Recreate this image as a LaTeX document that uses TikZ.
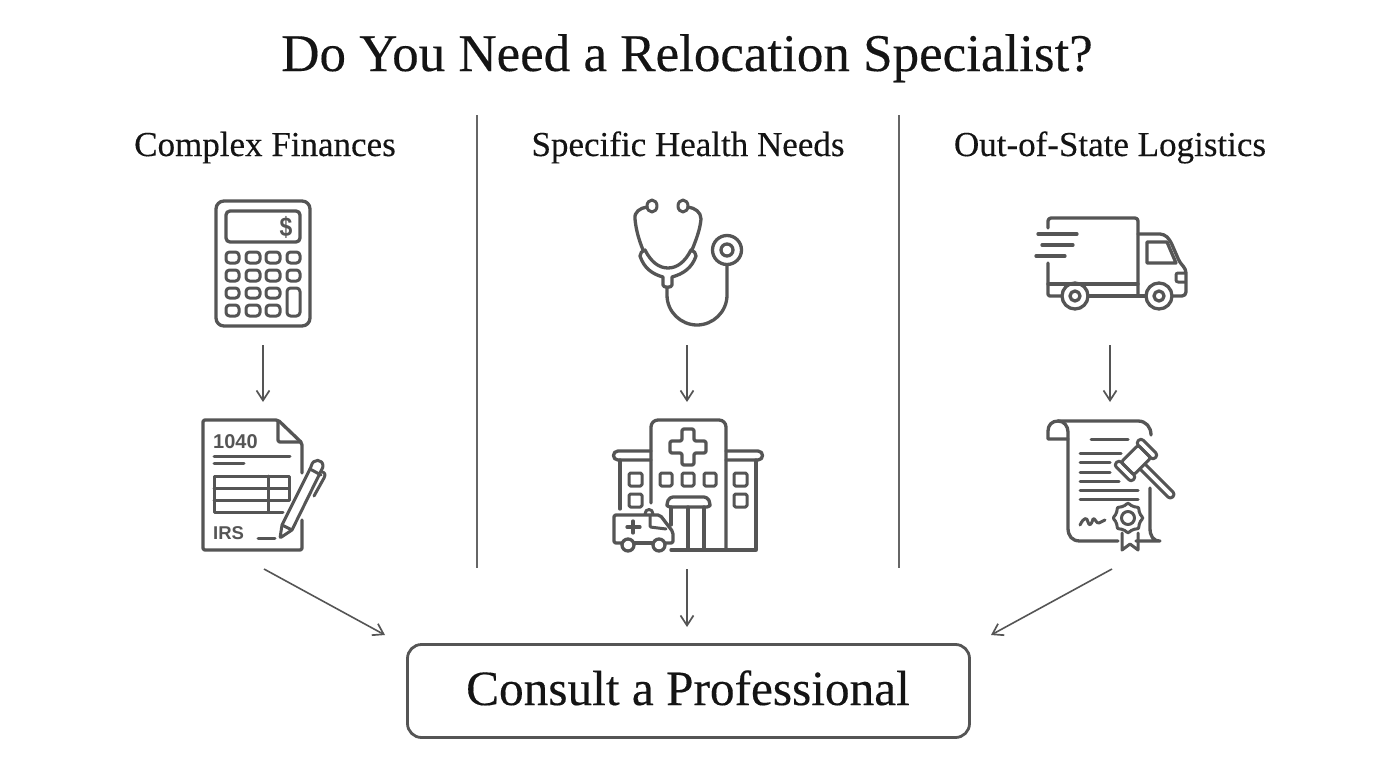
\documentclass[tikz,border=0pt]{standalone}
\usepackage{fontspec}
\setmainfont[FakeBold=0.25]{Liberation Serif}
\newfontfamily\iconsans{Liberation Sans}
\usetikzlibrary{arrows.meta}
\definecolor{ink}{HTML}{555555}
\definecolor{txt}{HTML}{141414}
\tikzset{
 x=1pt,y=-1pt,
 icon/.style={draw=ink,line width=3.3pt,line cap=round,line join=round},
 thin icon/.style={icon,line width=3pt},
 flow/.style={draw=ink,line width=1.6pt,-{Straight Barb[length=10pt,width=13pt,line width=1.7pt]}},
 sep/.style={draw=ink!90,line width=1.6pt},
 heading/.style={text=txt,font=\fontsize{35}{38}\selectfont,anchor=base,inner sep=0pt},
 key/.style={thin icon,rounded corners=3.5pt},
 win/.style={thin icon,rounded corners=1.5pt},
}
\begin{document}
\begin{tikzpicture}
\useasboundingbox (0,0) rectangle (1376,768);
\fill[white] (0,0) rectangle (1376,768);
\node[text=txt,font=\fontsize{53}{56}\selectfont,inner sep=0pt,anchor=base] (title) at (687,71) {Do You Need a Relocation Specialist?};
\node[heading] (h1) at (265,156) {Complex Finances};
\node[heading] (h2) at (688,156) {Specific Health Needs};
\node[heading] (h3) at (1110,156) {Out-of-State Logistics};
\coordinate (s1a) at (477,115); \coordinate (s1b) at (477,568);
\coordinate (s2a) at (899,115); \coordinate (s2b) at (899,568);
\draw[sep] (s1a) -- (s1b);
\draw[sep] (s2a) -- (s2b);
% calculator
\draw[icon,rounded corners=8pt] (216,201) rectangle (310,326);
\draw[icon,rounded corners=4pt] (226,211) rectangle (300,242);
\node[text=ink,font=\iconsans\bfseries\fontsize{27}{27}\selectfont,inner sep=0pt,xscale=.85] (dollar) at (286,227.5) {\$};
\foreach \ya/\yb in {252/263,270/281,288/298,305/316}{
 \foreach \xa/\xb in {226/239,246/260,266/280}{\draw[key] (\xa,\ya) rectangle (\xb,\yb);}}
\foreach \ya/\yb in {252/263,270/281}{\draw[key] (287,\ya) rectangle (300,\yb);}
\draw[key] (287,288) rectangle (300,316);
% tax form
\draw[icon,rounded corners=2pt] (302,473) -- (302,443) -- (278,420) -- (203,420) -- (203,550) -- (302,550) -- (302,520);
\draw[icon,rounded corners=2pt] (278,421) -- (278,442) -- (301,442);
\node[text=ink,font=\iconsans\bfseries\fontsize{20}{20}\selectfont,inner sep=0pt,anchor=base west] (f1040) at (213,448.5) {1040};
\draw[thin icon] (214,456) -- (290,456);
\draw[thin icon] (214,463) -- (244,463);
\draw[thin icon] (283,512) -- (214,512) -- (214,476) -- (289,476) -- (289,500) -- (214,500);
\draw[thin icon] (214,488) -- (289,488);
\draw[thin icon] (268,476) -- (268,512);
\node[text=ink,font=\iconsans\bfseries\fontsize{18.5}{18.5}\selectfont,inner sep=0pt,anchor=base west] (firs) at (213,539.5) {IRS};
\draw[thin icon] (258,538) -- (275,538);
\draw[thin icon,rounded corners=1pt] (280,538) -- (282,525) -- (311,467) .. controls (313,458) and (323,459) .. (323,467) -- (292,530) -- cycle;
\draw[thin icon] (282,525) -- (292,530);
\draw[thin icon] (310,469) -- (321,475);
\draw[thin icon] (323,472) .. controls (326,474) and (325,476) .. (324,478) -- (314,496);
% stethoscope
\draw[thin icon] (652,206) ellipse [x radius=5,y radius=6];
\draw[thin icon] (683,206) ellipse [x radius=5,y radius=6];
\draw[icon] (647,207) .. controls (640,208) and (634,212) .. (635,219) .. controls (636,230) and (639,240) .. (643,250);
\draw[icon] (688,207) .. controls (695,208) and (701,212) .. (701,219) .. controls (700,230) and (696,240) .. (692,250);
\draw[icon] (645,250) .. controls (651,262) and (659,268) .. (668,268) .. controls (677,268) and (685,262) .. (691,250) .. controls (694,251) and (696,253) .. (696,256) .. controls (692,268) and (683,274) .. (672,277) -- (672,285) .. controls (672,288) and (663,288) .. (663,285) -- (663,277) .. controls (652,274) and (644,268) .. (640,256) .. controls (640,253) and (642,251) .. (645,250) -- cycle;
\draw[icon] (667,288) -- (667,295) .. controls (667,312) and (681,325) .. (697,325) .. controls (713,325) and (727,312) .. (727,295) -- (727,265);
\draw[icon] (727,250) circle [radius=14.5];
\draw[icon] (727,250) circle [radius=6];
% hospital
\draw[icon,rounded corners=7pt] (651,503) -- (651,420) -- (726,420) -- (726,548);
\draw[icon,rounded corners=2pt] (682,429) -- (694,429) -- (694,441) -- (706,441) -- (706,453) -- (694,453) -- (694,465) -- (682,465) -- (682,453) -- (670,453) -- (670,441) -- (682,441) -- cycle;
\draw[icon] (651,451) -- (618,451) .. controls (612,451) and (612,460) .. (618,460) -- (651,460);
\draw[icon] (726,451) -- (758,451) .. controls (764,451) and (764,460) .. (758,460) -- (726,460);
\draw[icon] (620,460) -- (620,509);
\draw[icon] (756,460) -- (756,550) -- (671,550);
\foreach \xa/\xb in {629/642,734/747}{
 \draw[win] (\xa,473) rectangle (\xb,486);
 \draw[win] (\xa,494) rectangle (\xb,507);}
\foreach \xa/\xb in {660/672,682/694,704/716}{\draw[win] (\xa,473) rectangle (\xb,486);}
\draw[icon,rounded corners=3pt] (667,507) -- (667,503) .. controls (669,498) and (672,497) .. (676,497) -- (701,497) .. controls (705,497) and (708,498) .. (710,503) -- (710,507) -- cycle;
\draw[icon] (671,507) -- (671,525);
\draw[icon] (688,507) -- (688,550);
\draw[icon] (704,507) -- (704,550);
% ambulance
\draw[icon,rounded corners=2pt] (622,543) -- (614,543) -- (614,515) -- (660,515) -- (673,532) -- (673,543) -- (665,543);
\draw[icon] (634,543) -- (653,543);
\draw[icon] (628,545) circle [radius=6];
\draw[icon] (659,545) circle [radius=6];
\draw[thin icon,rounded corners=1pt] (650,515) -- (650,527) -- (666,529);
\draw[thin icon] (645,514) .. controls (645,508) and (653,508) .. (653,514);
\draw[icon] (633,521) -- (633,533);
\draw[icon] (627,527) -- (640,527);
% truck
\draw[icon,rounded corners=3pt] (1048,228) -- (1048,218) -- (1138,218) -- (1138,296);
\draw[icon,rounded corners=2pt] (1048,263) -- (1048,296) -- (1062,296);
\draw[icon] (1048,284) -- (1138,284);
\draw[icon] (1088,296) -- (1146,296);
\draw[icon] (1038,234) -- (1077,234);
\draw[icon] (1042,245) -- (1073,245);
\draw[icon] (1036,256) -- (1065,256);
\draw[icon,rounded corners=4pt] (1138,234) -- (1164,234) -- (1170,240) -- (1180,263) -- (1186,269) -- (1186,296) -- (1173,296);
\draw[icon] (1147,242) -- (1167,242) -- (1176,263) -- (1147,263) -- cycle;
\draw[thin icon,rounded corners=2pt] (1185,273) -- (1176,273) -- (1176,282) -- (1185,282);
\draw[icon] (1075,296) circle [radius=13];
\draw[icon] (1075,296) circle [radius=5];
\draw[icon] (1159,296) circle [radius=13];
\draw[icon] (1159,296) circle [radius=5];
% certificate
\draw[icon] (1068,439) -- (1048,439) -- (1048,431) .. controls (1048,425) and (1052,421) .. (1058,421) -- (1138,421) .. controls (1146,421) and (1151,427) .. (1151,435);
\draw[icon] (1058,421) .. controls (1064,421) and (1068,426) .. (1068,432) -- (1068,528) .. controls (1068,536) and (1072,541) .. (1080,541) -- (1118,541);
\draw[icon] (1150,488) -- (1150,528) .. controls (1150,536) and (1153,541) .. (1160,541) -- (1136,541);
\foreach \xa/\xb/\yy in {1091/1128/439,1080/1121/453,1080/1110/462,1080/1110/472,1080/1119/481,1080/1138/490,1080/1138/499}{
 \draw[thin icon] (\xa,\yy) -- (\xb,\yy);}
\draw[thin icon] (1080,525) .. controls (1084,517) and (1087,517) .. (1088,522) .. controls (1089,526) and (1091,526) .. (1093,519) .. controls (1095,517) and (1096,524) .. (1099,523) -- (1105,520);
\draw[thin icon] plot[smooth cycle,samples=24,domain=0:345] ({1128+(13.5+1.2*cos(8*\x))*cos(\x)},{518+(13.5+1.2*cos(8*\x))*sin(\x)});
\draw[thin icon] (1128,518) circle [radius=6.5];
\draw[thin icon] (1122,533) -- (1122,550) -- (1130,544) -- (1138,550) -- (1138,533);
\begin{scope}[shift={(1136,460)},rotate=-45]
 \draw[thin icon,rounded corners=2.5pt] (-9,-12) rectangle (9,12);
 \draw[thin icon,rounded corners=3pt] (-12,-19) rectangle (12,-12);
 \draw[thin icon,rounded corners=3pt] (-12,12) rectangle (12,19);
 \draw[thin icon,rounded corners=3pt] (9,-3.5) -- (52,-3.5) -- (52,3.5) -- (9,3.5);
\end{scope}
% final box
\node[draw=ink,line width=2.8pt,rounded corners=14pt,minimum width=562pt,minimum height=93pt,inner sep=0pt] (consult) at (688.5,691) {};
\node[text=txt,font=\fontsize{49.3}{52}\selectfont,inner sep=0pt,anchor=base] (consulttext) at (688,705) {Consult a Professional};
% connectors
\coordinate (a1a) at (263,345); \coordinate (a1b) at (263,402);
\coordinate (a2a) at (687,345); \coordinate (a2b) at (687,402);
\coordinate (a3a) at (1110,345); \coordinate (a3b) at (1110,402);
\coordinate (c1a) at (264,569); \coordinate (c1b) at (385,635);
\coordinate (c2a) at (687,569); \coordinate (c2b) at (687,627);
\coordinate (c3a) at (1112,569); \coordinate (c3b) at (991,635);
\draw[flow] (a1a) -- (a1b);
\draw[flow] (a2a) -- (a2b);
\draw[flow] (a3a) -- (a3b);
\draw[flow] (c1a) -- (c1b);
\draw[flow] (c2a) -- (c2b);
\draw[flow] (c3a) -- (c3b);
\end{tikzpicture}
\end{document}
